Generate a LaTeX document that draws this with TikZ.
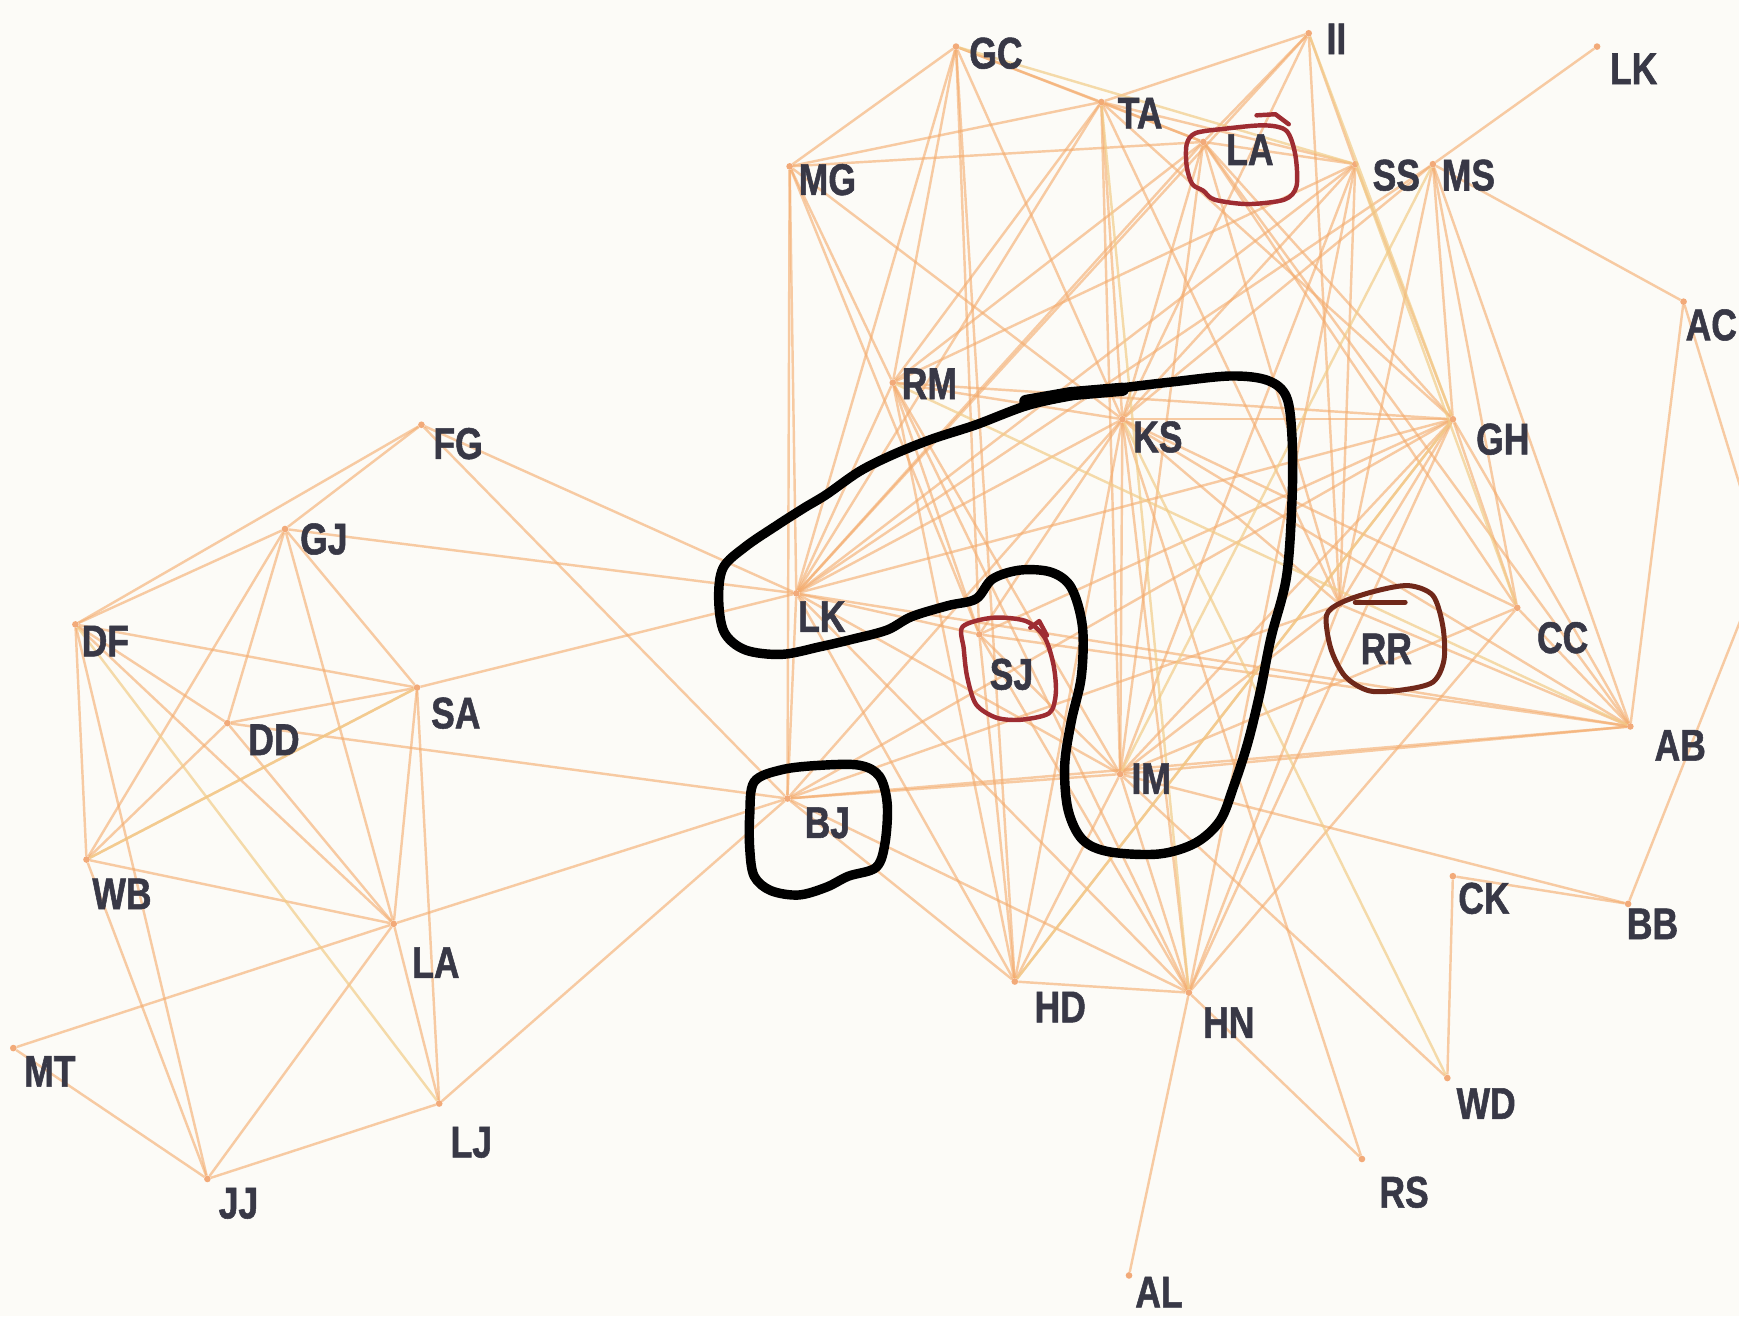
\documentclass[tikz,border=0pt]{standalone}
\usepackage{fontspec}
\newfontfamily\lblfont{Liberation Sans}[FakeStretch=0.8,FakeBold=1.2]
\definecolor{edgec}{RGB}{244,172,110}
\definecolor{edgey}{RGB}{242,204,136}
\definecolor{dotc}{RGB}{240,150,90}
\definecolor{lblc}{RGB}{56,56,70}
\definecolor{penred}{RGB}{158,44,50}
\definecolor{penbrown}{RGB}{112,40,26}
\definecolor{bgc}{RGB}{252,251,247}
\tikzset{
  vtx/.style={circle, fill=dotc, fill opacity=0.8, inner sep=0pt, minimum size=6pt},
  lbl/.style={font=\lblfont\bfseries\fontsize{40}{40}\selectfont, text=lblc, inner sep=0pt},
  edge/.style={draw=edgec, line width=2.2pt, draw opacity=0.62},
  edgeb/.style={draw=edgey, line width=2.2pt, draw opacity=0.7},
  blackpen/.style={draw=black, line width=8.5pt, line cap=round, line join=round},
  redpen/.style={draw=penred, line width=4pt, line cap=round, line join=round},
  brownpen/.style={draw=penbrown, line width=4.5pt, line cap=round, line join=round},
}
\begin{document}
\begin{tikzpicture}[x=1pt,y=-1pt]
\path[use as bounding box] (0,0) rectangle (1568,1187);
\clip (0,0) rectangle (1568,1187);
\fill[bgc] (0,0) rectangle (1568,1187);

% vertices (dots)
\node[vtx] (GC)  at (862,42)   {};
\node[vtx] (II)  at (1180,30)  {};
\node[vtx] (LKt) at (1440,42)  {};
\node[vtx] (TA)  at (993,92)   {};
\node[vtx] (LAt) at (1085,128) {};
\node[vtx] (MG)  at (712,150)  {};
\node[vtx] (SS)  at (1222,148) {};
\node[vtx] (MS)  at (1292,148) {};
\node[vtx] (AC)  at (1518,272) {};
\node[vtx] (RM)  at (805,345)  {};
\node[vtx] (FG)  at (380,383)  {};
\node[vtx] (KS)  at (1012,378) {};
\node[vtx] (GH)  at (1310,378) {};
\node[vtx] (GJ)  at (257,477)  {};
\node[vtx] (DF)  at (68,563)   {};
\node[vtx] (LK)  at (718,535)  {};
\node[vtx] (CC)  at (1368,548) {};
\node[vtx] (RR)  at (1208,545) {};
\node[vtx] (SJ)  at (883,572)  {};
\node[vtx] (SA)  at (376,620)  {};
\node[vtx] (DD)  at (205,652)  {};
\node[vtx] (AB)  at (1470,655) {};
\node[vtx] (IM)  at (1010,698) {};
\node[vtx] (BJ)  at (710,720)  {};
\node[vtx] (WB)  at (78,775)   {};
\node[vtx] (CK)  at (1310,790) {};
\node[vtx] (BB)  at (1468,815) {};
\node[vtx] (LAb) at (355,833)  {};
\node[vtx] (HD)  at (915,885)  {};
\node[vtx] (HN)  at (1072,895) {};
\node[vtx] (MT)  at (12,945)   {};
\node[vtx] (WD)  at (1305,972) {};
\node[vtx] (LJ)  at (396,995)  {};
\node[vtx] (RS)  at (1228,1045){};
\node[vtx] (JJ)  at (187,1063) {};
\node[vtx] (AL)  at (1018,1150){};
\coordinate (offR) at (1590,507);

% edges
\foreach \a/\b in {
  FG/GJ, FG/DF, FG/LK, FG/BJ, GJ/DF, GJ/DD, GJ/SA, GJ/WB, GJ/LAb, GJ/LK,
  DF/DD, DF/SA, DF/LAb, DF/WB, DF/JJ, DD/SA, DD/WB, DD/LAb, DD/BJ,
  SA/LAb, SA/WB, SA/LK, SA/LJ, WB/LAb, WB/JJ, LAb/MT, LAb/JJ, LAb/LJ, LAb/BJ,
  MT/JJ, JJ/LJ, LJ/BJ,
  GC/MG, GC/TA, GC/RM, GC/LK, GC/SJ, GC/HD, GC/KS, GC/LAt,
  TA/II, TA/MG, TA/LAt, TA/SS, TA/KS, TA/IM, TA/RM, TA/LK, TA/GH, TA/RR,
  II/LAt, II/SS, II/RR, II/LK, II/KS,
  MG/LAt, MG/RM, MG/LK, MG/BJ, MG/KS, MG/SJ,
  LAt/SS, LAt/LK, LAt/RM, LAt/KS, LAt/GH, LAt/CC, LAt/RR, LAt/IM, LAt/AB,
  SS/LK, SS/RM, SS/KS, SS/GH, SS/RR, SS/IM, SS/HN,
  MS/LKt, MS/AC, MS/GH, MS/CC, MS/AB, MS/RR, MS/LK, MS/KS,
  AC/AB, AC/offR, BB/offR,
  RM/KS, RM/GH, RM/LK, RM/IM, RM/SJ, RM/HD, RM/HN,
  KS/LK, KS/GH, KS/IM, KS/HN, KS/HD, KS/SJ, KS/AB, KS/CC, KS/RR, KS/BJ, KS/RS,
  GH/LK, GH/CC, GH/AB, GH/RR, GH/IM, GH/HN, GH/HD, GH/SJ, GH/BJ,
  LK/BJ, LK/SJ, LK/IM, LK/HD, LK/HN, LK/AB,
  BJ/IM, BJ/HD, BJ/HN, BJ/AB, BJ/RR,
  SJ/HD, SJ/HN, SJ/IM, SJ/AB,
  IM/HD, IM/HN, IM/RR, IM/AB, IM/BB, IM/WD, IM/CC,
  HD/HN, HN/AL, HN/RS, HN/CC, HN/RR, CC/AB, RR/AB, CK/BB, CK/WD}
  \draw[edge] (\a) -- (\b);
\foreach \a/\b in {GC/SS, MS/IM, SS/CC, II/GH, DF/LJ, WB/SA, KS/WD, RM/AB, TA/HN, GH/HD}
  \draw[edgeb] (\a) -- (\b);

% labels
\node[lbl] (tGC)  at (898,48)   {GC};
\node[lbl] (tII)  at (1205,35)  {II};
\node[lbl] (tLKt) at (1473,62)  {LK};
\node[lbl] (tTA)  at (1028,102) {TA};
\node[lbl] (tLAt) at (1127,135) {LA};
\node[lbl] (tMG)  at (746,162)  {MG};
\node[lbl] (tSS)  at (1259,158) {SS};
\node[lbl] (tMS)  at (1324,158) {MS};
\node[lbl] (tAC)  at (1543,293) {AC};
\node[lbl] (tRM)  at (838,346)  {RM};
\node[lbl] (tFG)  at (413,400)  {FG};
\node[lbl] (tKS)  at (1044,394) {KS};
\node[lbl] (tGH)  at (1355,396) {GH};
\node[lbl] (tGJ)  at (292,486)  {GJ};
\node[lbl] (tDF)  at (95,578)   {DF};
\node[lbl] (tLK)  at (741,556)  {LK};
\node[lbl] (tCC)  at (1409,575) {CC};
\node[lbl] (tRR)  at (1250,585) {RR};
\node[lbl] (tSJ)  at (912,608)  {SJ};
\node[lbl] (tSA)  at (411,643)  {SA};
\node[lbl] (tDD)  at (247,667)  {DD};
\node[lbl] (tAB)  at (1515,672) {AB};
\node[lbl] (tIM)  at (1038,702) {IM};
\node[lbl] (tBJ)  at (746,742)  {BJ};
\node[lbl] (tWB)  at (110,806)  {WB};
\node[lbl] (tCK)  at (1338,810) {CK};
\node[lbl] (tBB)  at (1490,833) {BB};
\node[lbl] (tLAb) at (393,868)  {LA};
\node[lbl] (tHD)  at (956,908)  {HD};
\node[lbl] (tHN)  at (1108,922) {HN};
\node[lbl] (tMT)  at (45,966)   {MT};
\node[lbl] (tWD)  at (1340,995) {WD};
\node[lbl] (tLJ)  at (425,1030) {LJ};
\node[lbl] (tRS)  at (1266,1075){RS};
\node[lbl] (tJJ)  at (215,1085) {JJ};
\node[lbl] (tAL)  at (1045,1165){AL};

% hand-drawn annotations
\draw[blackpen] plot[smooth cycle, tension=0.55] coordinates {
 (648,540) (652,512) (672,493) (700,474) (725,458) (745,446) (775,425) (805,410)
 (840,396) (880,383) (925,366) (965,357) (1010,350) (1060,344) (1110,339) (1143,343)
 (1160,358) (1165,395) (1165,450) (1160,520) (1146,575) (1136,625) (1125,670)
 (1112,710) (1100,740) (1078,760) (1045,770) (1000,768) (976,757) (963,730)
 (960,690) (966,650) (975,610) (976,565) (966,530) (948,516) (920,514) (895,522)
 (880,540) (855,546) (822,556) (800,568) (770,576) (740,583) (705,590) (672,586) (653,570)};
\draw[blackpen, line width=12pt] (925,362) -- (965,355) -- (1012,351);
\draw[blackpen] plot[smooth cycle, tension=0.55] coordinates {
 (676,735) (680,705) (705,694) (740,690) (775,690) (793,700) (800,725) (798,760)
 (790,782) (765,790) (745,800) (720,807) (695,803) (680,790) (676,765)};
\draw[redpen] plot[smooth cycle, tension=0.5] coordinates {
 (1070,130) (1078,120) (1105,116) (1140,113) (1160,118) (1168,140) (1169,168)
 (1158,180) (1125,184) (1095,180) (1085,172) (1075,166) (1070,150)};
\draw[redpen] (1133,104) -- (1150,103) -- (1162,112);
\draw[redpen] plot[smooth cycle, tension=0.5] coordinates {
 (868,565) (895,557) (925,560) (942,575) (950,600) (952,625) (946,643) (920,649)
 (898,647) (880,635) (872,610) (869,585)};
\draw[redpen] (929,566) -- (937,560) -- (944,573);
\draw[brownpen] plot[smooth cycle, tension=0.5] coordinates {
 (1196,555) (1210,543) (1240,533) (1270,528) (1292,537) (1301,565) (1302,595)
 (1292,615) (1265,622) (1235,623) (1213,610) (1200,585)};
\draw[brownpen] (1222,543) -- (1267,543);
\end{tikzpicture}
\end{document}
